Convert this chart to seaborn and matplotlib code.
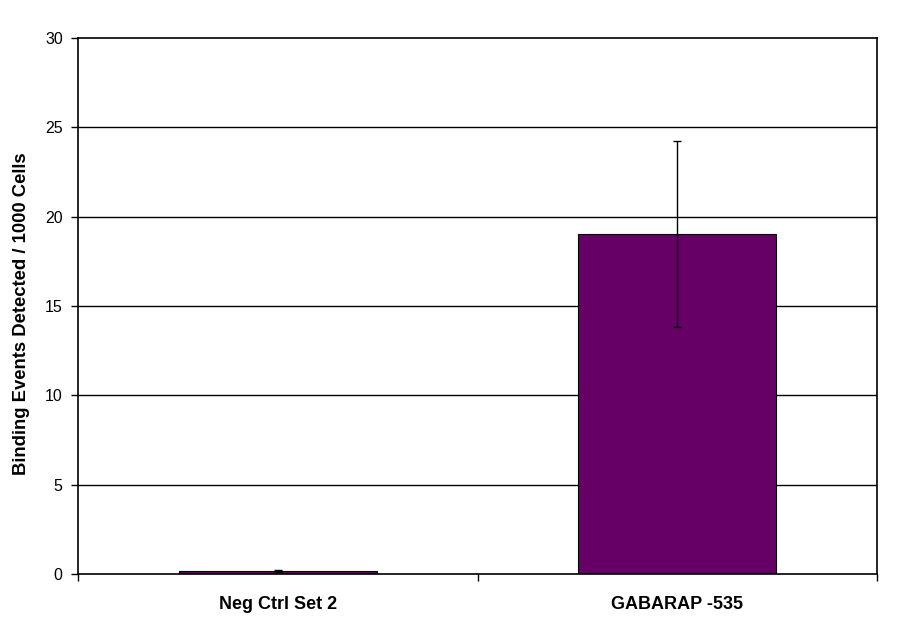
import matplotlib
matplotlib.use("Agg")
import matplotlib.pyplot as plt
import seaborn as sns
import pandas as pd

categories = ["Neg Ctrl Set 2", "GABARAP -535"]
values = [0.17, 19.03]
errors = [0.05, 5.18]
y_ticks = [0, 5, 10, 15, 20, 25, 30]

df = pd.DataFrame({"group": categories, "events": values})

sns.set_theme(style="white")
plt.rcParams["font.family"] = ["Liberation Sans", "DejaVu Sans"]
plt.rcParams["text.color"] = "black"
plt.rcParams["axes.labelcolor"] = "black"
plt.rcParams["xtick.color"] = "black"
plt.rcParams["ytick.color"] = "black"

fig = plt.figure(figsize=(9.11, 6.23), dpi=100)
ax = fig.add_axes([78 / 911, 1 - 574 / 623, (877 - 78) / 911, (574 - 38) / 623])

sns.barplot(data=df, x="group", y="events", ax=ax, color="#660066",
            saturation=1, width=0.495, edgecolor="black", linewidth=0.8)
ax.errorbar(range(len(categories)), values, yerr=errors, fmt="none",
            ecolor="black", elinewidth=1, capsize=3, capthick=1)

ax.set_ylim(0, 30)
ax.set_xlim(-0.5, len(categories) - 0.5)
ax.set_yticks(y_ticks)
for t in y_ticks[1:-1]:
    ax.axhline(t, color="black", lw=1, zorder=0)

ax.set_xticks(range(len(categories)))
ax.set_xticklabels(categories, fontweight="bold", fontsize=13)
ax.set_xticks([i - 0.5 for i in range(len(categories) + 1)], minor=True)
ax.tick_params(axis="x", which="major", length=0, pad=16)
ax.tick_params(axis="x", which="minor", length=5, width=1, color="black",
               direction="out", bottom=True)
ax.tick_params(axis="y", length=5, width=1, color="black", direction="out",
               left=True, labelsize=11.5, pad=6)

for s in ax.spines.values():
    s.set_color("black")
    s.set_linewidth(1.2)
    s.set_visible(True)

ax.set_xlabel("")
ax.set_ylabel("Binding Events Detected / 1000 Cells", fontweight="bold",
              fontsize=13.3)
ax.yaxis.set_label_coords(-0.060, 0.485)

fig.savefig("out.png", dpi=100, facecolor="white")
